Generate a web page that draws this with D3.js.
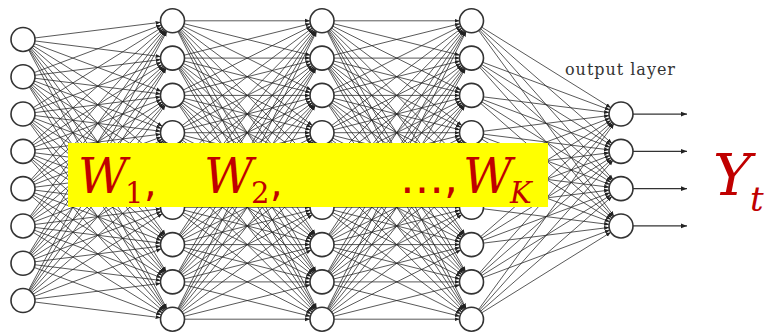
<!DOCTYPE html>
<html>
<head>
<meta charset="utf-8">
<script src="https://cdn.jsdelivr.net/npm/d3@7"></script>
<style>
  body { margin: 0; background: #fff; }
  svg { display: block; }
</style>
</head>
<body>
<div id="chart"></div>
<script>
var width = 770,
    height = 334;

// neurons per layer: input, three hidden, output
var layerSizes = [8, 9, 9, 9, 4];
var layerIds = ["input", "h1", "h2", "hK", "output"];
var outputLabel = "output layer";

// weight labels drawn on the yellow band
var weightBases = ["W", "W", "W"];
var weightSubs = ["1", "2", "K"];
var weightPrefix = ["", "", "…,"];
var targetBase = "Y",
    targetSub = "t";

var nodeR = 12;

var svg = d3.select("#chart").append("svg")
  .attr("width", width)
  .attr("height", height);

var defs = svg.append("defs");
defs.append("marker")
  .attr("id", "head")
  .attr("viewBox", "0 0 10 10")
  .attr("refX", 10)
  .attr("refY", 5)
  .attr("markerWidth", 5)
  .attr("markerHeight", 5)
  .attr("orient", "auto")
  .append("path")
  .attr("d", "M0,1L10,5L0,9z")
  .attr("fill", "#222");

// x position of each layer
var x = d3.scalePoint()
  .domain(layerIds)
  .range([23, 621]);

// vertical spacing between neurons, centred on the same line
var y = d3.scaleLinear()
  .domain([0, 1])
  .range([170, 170 + 37.3]);

var nodes = [];
layerSizes.forEach(function(n, l) {
  for (var i = 0; i < n; i++) {
    nodes.push({
      layer: l,
      idx: i,
      x: x(layerIds[l]),
      y: y(i - (n - 1) / 2)
    });
  }
});

var links = [];
for (var l = 0; l < layerSizes.length - 1; l++) {
  var src = nodes.filter(function(d){ return d.layer === l; }),
      tgt = nodes.filter(function(d){ return d.layer === l + 1; });
  src.forEach(function(s) {
    tgt.forEach(function(t) {
      links.push({ s: s, t: t });
    });
  });
}

// connections, stopping at the rim of the target neuron
svg.append("g")
  .selectAll("line")
  .data(links)
  .enter()
  .append("line")
  .attr("x1", function(d){ return d.s.x; })
  .attr("y1", function(d){ return d.s.y; })
  .attr("x2", function(d){
    var a = Math.atan2(d.t.y - d.s.y, d.t.x - d.s.x);
    return d.t.x - nodeR * Math.cos(a);
  })
  .attr("y2", function(d){
    var a = Math.atan2(d.t.y - d.s.y, d.t.x - d.s.x);
    return d.t.y - nodeR * Math.sin(a);
  })
  .attr("stroke", "#222")
  .attr("stroke-opacity", 0.75)
  .attr("stroke-width", 1)
  .attr("marker-end", "url(#head)");

// output arrows
var outNodes = nodes.filter(function(d){ return d.layer === layerSizes.length - 1; });
svg.append("g")
  .selectAll("line")
  .data(outNodes)
  .enter()
  .append("line")
  .attr("x1", function(d){ return d.x + nodeR; })
  .attr("y1", function(d){ return d.y; })
  .attr("x2", function(d){ return d.x + 66; })
  .attr("y2", function(d){ return d.y; })
  .attr("stroke", "#333")
  .attr("stroke-width", 1.2)
  .attr("marker-end", "url(#head)");

// neurons
svg.append("g")
  .selectAll("circle")
  .data(nodes)
  .enter()
  .append("circle")
  .attr("cx", function(d){ return d.x; })
  .attr("cy", function(d){ return d.y; })
  .attr("r", nodeR)
  .attr("fill", "#fff")
  .attr("stroke", "#333")
  .attr("stroke-width", 1.6);

svg.append("text")
  .attr("x", 565)
  .attr("y", 75)
  .attr("textLength", 110)
  .attr("lengthAdjust", "spacing")
  .style("font", "16px 'DejaVu Serif', serif")
  .style("fill", "#333")
  .text(outputLabel);

// yellow band with the weight matrices
svg.append("rect")
  .attr("x", 68)
  .attr("y", 143)
  .attr("width", 480)
  .attr("height", 64)
  .attr("fill", "#ffff00");

var red = "#c00000";
var labelX = [78, 204, 463],
    prefixX = [0, 0, 400];

weightBases.forEach(function(b, i) {
  var t = svg.append("text")
    .attr("y", 193)
    .style("fill", red);
  if (weightPrefix[i]) {
    t.append("tspan")
      .attr("x", prefixX[i])
      .style("font", "44px 'DejaVu Sans', sans-serif")
      .text(weightPrefix[i]);
  }
  t.append("tspan")
    .attr("x", labelX[i])
    .style("font", "italic 48px 'DejaVu Serif', serif")
    .text(b);
  var isDigit = /\d/.test(weightSubs[i]);
  t.append("tspan")
    .attr("x", labelX[i] + 47)
    .attr("dy", 10)
    .style("font", (isDigit ? "" : "italic ") + "29px 'DejaVu Serif', serif")
    .text(weightSubs[i]);
  if (!weightPrefix[i]) {
    t.append("tspan")
      .attr("x", labelX[i] + 66)
      .attr("dy", -7)
      .style("font", "40px 'DejaVu Sans', sans-serif")
      .text(",");
  }
});

var yt = svg.append("text")
  .attr("y", 195)
  .style("fill", red);
yt.append("tspan")
  .attr("x", 713)
  .style("font", "italic 58px 'DejaVu Serif', serif")
  .text(targetBase);
yt.append("tspan")
  .attr("x", 750)
  .attr("dy", 16)
  .style("font", "italic 34px 'DejaVu Serif', serif")
  .text(targetSub);
</script>
</body>
</html>
